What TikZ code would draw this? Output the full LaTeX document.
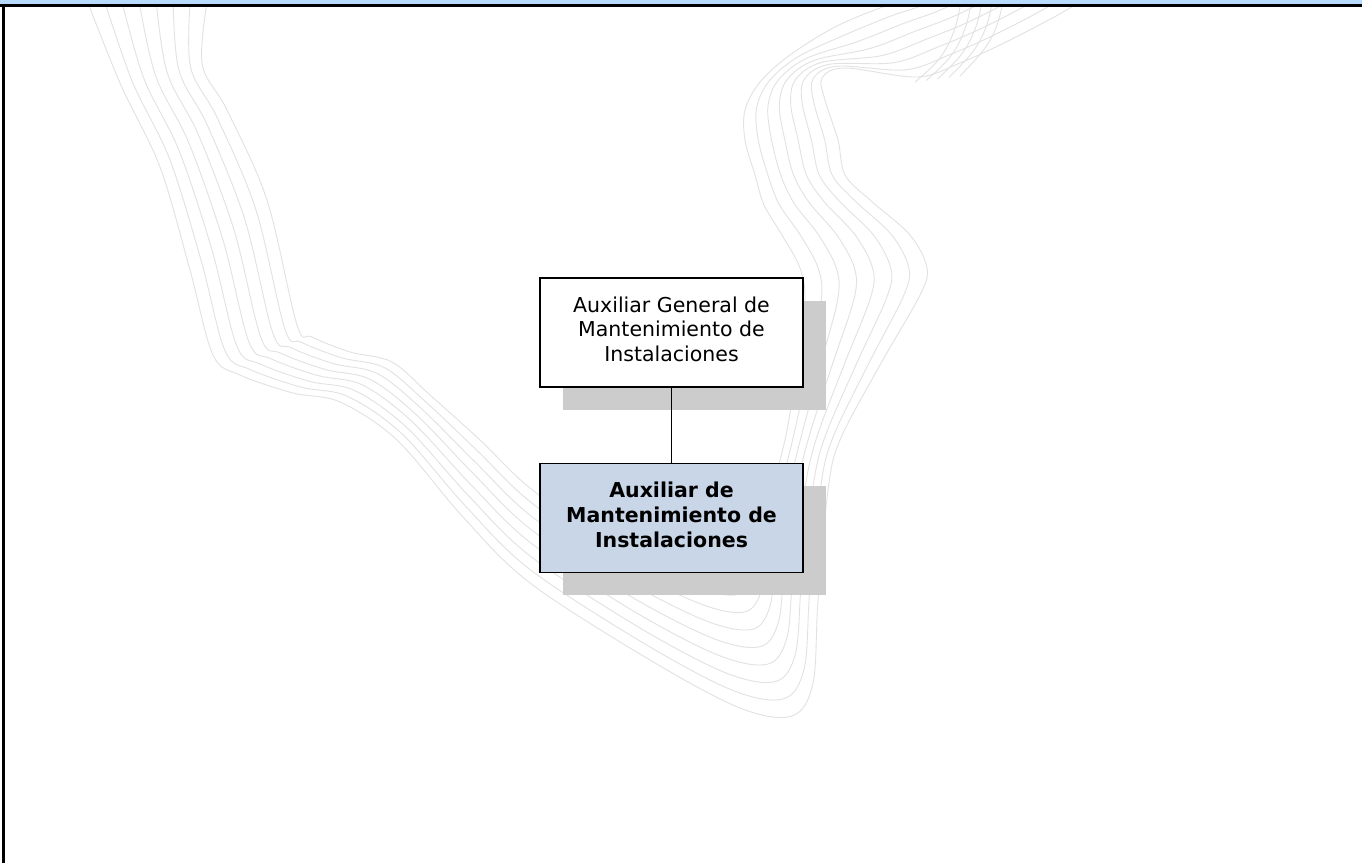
\documentclass[tikz,border=0pt]{standalone}
\usepackage{fontspec}
\setmainfont{DejaVu Sans}
\usetikzlibrary{calc,shadows}

\definecolor{barblue}{RGB}{183,218,255}
\definecolor{boxblue}{RGB}{201,214,231}
\definecolor{shadowgray}{RGB}{204,204,204}
\definecolor{wavegray}{RGB}{226,226,226}

\tikzset{
  orgbox/.style={draw=black, line width=1.5pt, fill=white,
    minimum width=263pt, minimum height=109pt, inner sep=0pt,
    align=center, font=\fontsize{20.5}{24.7}\selectfont,
    general shadow={fill=shadowgray, shadow xshift=22.5pt, shadow yshift=-22.5pt}},
  activebox/.style={orgbox, fill=boxblue, font=\fontsize{20.5}{24.7}\selectfont\bfseries},
  conn/.style={draw=black, line width=1.3pt},
  wave/.style={draw=wavegray, line width=0.9pt},
}

\newcommand{\lowstrut}{\rule[-6.6pt]{0pt}{0pt}}

\begin{document}
\begin{tikzpicture}[x=1pt, y=-1pt]
\useasboundingbox (0,0) rectangle (1362,863);
\fill[white] (0,0) rectangle (1362,863);

% background ribbon of wavy lines
\begin{scope}
\clip (0,0) rectangle (1362,863);
\foreach \k in {0,...,7}{
  \pgfmathsetmacro\t{\k/7}
  \draw[wave] plot[smooth, tension=0.55] coordinates {
    ($(83,-10)!\t!(209,-10)$)
    ($(120,83)!\t!(202,63)$)
    ($(160,167)!\t!(227,110)$)
    ($(190,270)!\t!(267,200)$)
    ($(213,355)!\t!(297,325)$)
    ($(240,375)!\t!(312,337)$)
    ($(293,393)!\t!(350,352)$)
    ($(340,402)!\t!(392,362)$)
    ($(397,440)!\t!(430,395)$)
    ($(463,517)!\t!(480,440)$)
    ($(530,583)!\t!(530,488)$)
    ($(650,660)!\t!(610,545)$)
    ($(740,708)!\t!(690,585)$)
    ($(792,716)!\t!(735,595)$)
    ($(813,683)!\t!(752,578)$)
    ($(818,600)!\t!(760,540)$)
    ($(828,490)!\t!(775,480)$)
    ($(840,440)!\t!(787,430)$)
    ($(880,365)!\t!(798,360)$)
    ($(920,295)!\t!(805,300)$)
    ($(927,268)!\t!(800,268)$)
    ($(910,235)!\t!(782,235)$)
    ($(870,200)!\t!(764,205)$)
    ($(845,175)!\t!(755,175)$)
    ($(838,140)!\t!(745,140)$)
    ($(825,100)!\t!(745,110)$)
    ($(822,78)!\t!(760,82)$)
    ($(845,68)!\t!(790,55)$)
    ($(917,77)!\t!(835,27)$)
    ($(960,63)!\t!(880,8)$)
    ($(1010,40)!\t!(915,-3)$)
    ($(1070,8)!\t!(950,-20)$)
    ($(1100,-15)!\t!(980,-40)$)
  };
}
\foreach \k in {0,...,4}{
  \pgfmathsetmacro\t{\k/4}
  \draw[wave] plot[smooth, tension=0.6] coordinates {
    ($(915,82)!\t!(960,76)$)
    ($(940,58)!\t!(985,48)$)
    ($(955,28)!\t!(998,22)$)
    ($(963,-10)!\t!(1005,-10)$)
  };
}
\end{scope}

% chart boxes
\node[orgbox] (chief) at (671.5,332.5)
  {Auxiliar General de\\Mantenimiento de\\Instalaciones\lowstrut};
\node[activebox] (post) at (671.5,518)
  {Auxiliar de\\Mantenimiento de\\Instalaciones\lowstrut};
\draw[conn] (chief.south) -- (post.north);

% frame: title bar and left rule
\fill[barblue] (0,0) rectangle (1362,4.6);
\draw[line width=2.4pt] (0,5.6) -- (1362,5.6);
\draw[line width=2.3pt] (3.5,4.5) -- (3.5,863);
\end{tikzpicture}
\end{document}
